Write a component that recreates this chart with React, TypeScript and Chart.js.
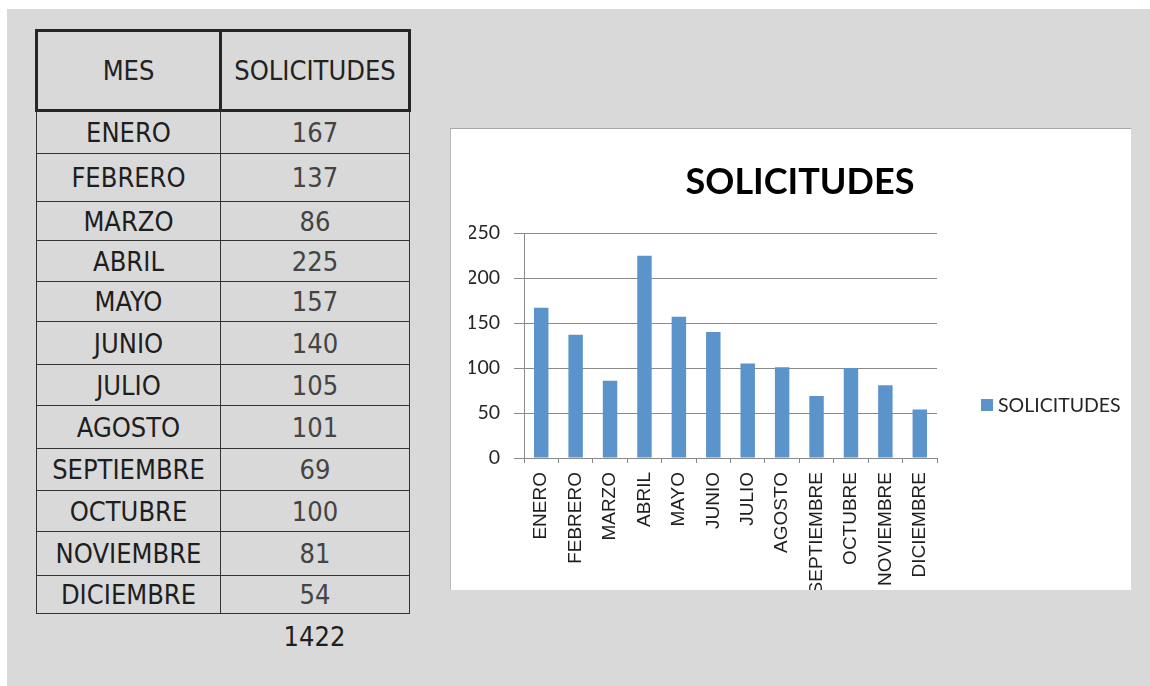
import React, { useEffect, useRef } from "react";
import { Chart, registerables } from "chart.js";

Chart.register(...registerables);

const MONTHS = [
  "ENERO", "FEBRERO", "MARZO", "ABRIL", "MAYO", "JUNIO",
  "JULIO", "AGOSTO", "SEPTIEMBRE", "OCTUBRE", "NOVIEMBRE", "DICIEMBRE",
];
const SOLICITUDES = [167, 137, 86, 225, 157, 140, 105, 101, 69, 100, 81, 54];
const TOTAL_LABEL = "1422";
const HEADERS = ["MES", "SOLICITUDES"];
const CHART_TITLE = "SOLICITUDES";
const SERIES_LABEL = "SOLICITUDES";
const Y_TICKS = [0, 50, 100, 150, 200, 250];

// layout only (row heights of the table in the picture)
const ROW_HEIGHTS = [43, 48, 39, 41, 40, 43, 41, 43, 42, 41, 44, 38];

const BAR_COLOR = "#5B93CB";
const AXIS_COLOR = "#8a8a8a";

const legendPlugin = {
  id: "sideLegend",
  afterDraw(chart: any) {
    const ctx = chart.ctx;
    const area = chart.chartArea;
    const ds = chart.data.datasets[0];
    const x = area.right + 44;
    const y = 270;
    ctx.save();
    ctx.fillStyle = ds.backgroundColor;
    ctx.fillRect(x, y, 12, 12);
    ctx.fillStyle = "#262626";
    ctx.font = "19.5px Lato";
    ctx.textBaseline = "middle";
    ctx.textAlign = "left";
    ctx.fillText(ds.label, x + 17, y + 7);
    ctx.restore();
  },
};

function BarChart() {
  const ref = useRef<HTMLCanvasElement | null>(null);
  useEffect(() => {
    if (!ref.current) return;
    const chart = new Chart(ref.current, {
      type: "bar",
      data: {
        labels: MONTHS,
        datasets: [
          {
            label: SERIES_LABEL,
            data: SOLICITUDES,
            backgroundColor: BAR_COLOR,
            borderWidth: 0,
            barPercentage: 0.42,
            categoryPercentage: 1,
            yAxisID: "y",
          },
        ],
      },
      options: {
        animation: false,
        responsive: false,
        devicePixelRatio: 1,
        layout: { padding: { left: 18, right: 0, top: 0, bottom: 0 } },
        plugins: {
          legend: { display: false },
          tooltip: { enabled: false },
          title: {
            display: true,
            text: CHART_TITLE,
            color: "#000",
            font: { family: "Lato", size: 36, weight: "bold", lineHeight: 1.2 },
            padding: { top: 32, bottom: 29 },
          },
        },
        scales: {
          x: {
            type: "category",
            offset: true,
            grid: {
              display: true,
              drawOnChartArea: false,
              drawTicks: true,
              tickLength: 5,
              offset: true,
              color: AXIS_COLOR,
            },
            border: { display: true, color: AXIS_COLOR, width: 1 },
            ticks: {
              autoSkip: false,
              minRotation: 90,
              maxRotation: 90,
              padding: 9,
              color: "#1f1f1f",
              font: { family: "Liberation Sans", size: 19 },
            },
            afterFit: (s: any) => {
              s.height = 132;
            },
          },
          y: {
            type: "linear",
            position: "left",
            min: 0,
            max: 250,
            afterBuildTicks: (s: any) => {
              s.ticks = Y_TICKS.map((v) => ({ value: v }));
            },
            grid: {
              color: AXIS_COLOR,
              tickLength: 10,
              lineWidth: 1,
            },
            border: { display: true, color: AXIS_COLOR, width: 1 },
            ticks: {
              padding: 14,
              color: "#262626",
              font: { family: "Lato", size: 19.5 },
            },
            afterFit: (s: any) => {
              s.width = 55;
            },
          },
          y2: {
            type: "linear",
            position: "right",
            display: true,
            grid: { display: false, drawTicks: false },
            border: { display: false },
            ticks: { display: false },
            afterFit: (s: any) => {
              s.width = 194;
            },
          },
        },
      },
      plugins: [legendPlugin],
    });
    return () => chart.destroy();
  }, []);
  return <canvas ref={ref} width={680} height={461} style={{ display: "block" }} />;
}

export default function App() {
  const font = "'DejaVu Sans Condensed', 'DejaVu Sans', sans-serif";
  const headCell: React.CSSProperties = {
    border: "3px solid #262626",
    textAlign: "center",
    verticalAlign: "middle",
    padding: 0,
    color: "#222",
  };
  const bodyCell: React.CSSProperties = {
    border: "1px solid #333",
    textAlign: "center",
    verticalAlign: "middle",
    padding: 0,
  };
  return (
    <div
      style={{
        position: "absolute",
        left: 0,
        top: 0,
        width: 1150,
        height: 686,
        background: "#fff",
        overflow: "hidden",
        fontFamily: font,
      }}
    >
      <div
        style={{
          position: "absolute",
          left: 7,
          top: 9,
          width: 1143,
          height: 677,
          background: "#d9d9d9",
        }}
      />
      <table
        style={{
          position: "absolute",
          left: 35,
          top: 29,
          width: 373,
          borderCollapse: "collapse",
          tableLayout: "fixed",
          fontSize: 27,
          fontFamily: font,
        }}
      >
        <colgroup>
          <col style={{ width: 184 }} />
          <col style={{ width: 189 }} />
        </colgroup>
        <thead>
          <tr style={{ height: 80 }}>
            {HEADERS.map((h) => (
              <th key={h} style={{ ...headCell, fontWeight: "normal" }}>
                {h}
              </th>
            ))}
          </tr>
        </thead>
        <tbody>
          {MONTHS.map((m, i) => (
            <tr key={m} style={{ height: ROW_HEIGHTS[i] }}>
              <td style={{ ...bodyCell, color: "#1e1e1e" }}>{m}</td>
              <td style={{ ...bodyCell, color: "#444" }}>{SOLICITUDES[i]}</td>
            </tr>
          ))}
        </tbody>
      </table>
      <div
        style={{
          position: "absolute",
          left: 220,
          top: 612,
          width: 189,
          height: 50,
          lineHeight: "50px",
          textAlign: "center",
          fontSize: 27,
          color: "#1e1e1e",
        }}
      >
        {TOTAL_LABEL}
      </div>
      <div
        style={{
          position: "absolute",
          left: 450,
          top: 128,
          width: 681,
          height: 462,
          background: "#fff",
          borderTop: "1px solid #a8a8a8",
          borderLeft: "1px solid #b8b8b8",
          boxSizing: "border-box",
        }}
      >
        <BarChart />
      </div>
    </div>
  );
}
